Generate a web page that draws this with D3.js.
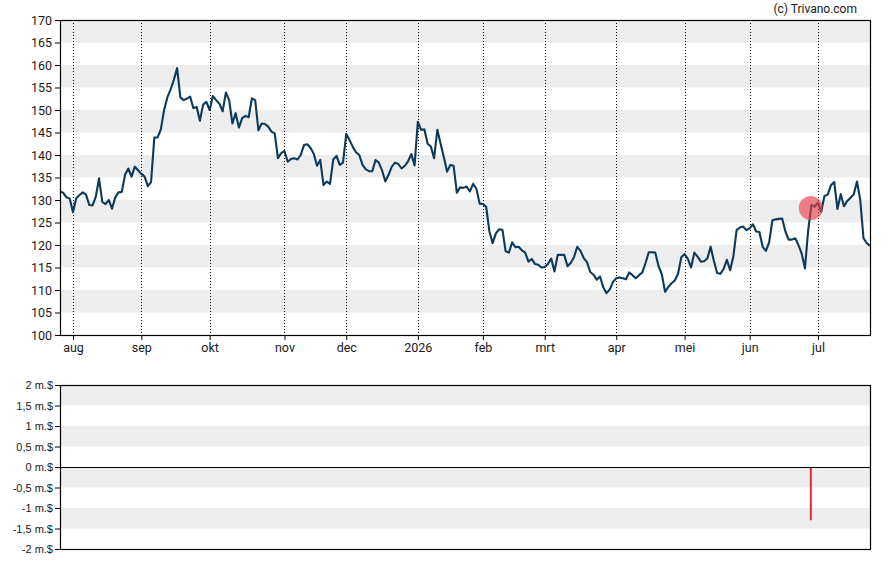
<!DOCTYPE html>
<html>
<head>
<meta charset="utf-8">
<script src="https://cdn.jsdelivr.net/npm/d3@7"></script>
<style>
  html, body { margin: 0; padding: 0; background: #fff; }
  svg { display: block; }
  text { font-family: Roboto, "Noto Sans", sans-serif; fill: #1a1a1a; }
</style>
</head>
<body>
<svg id="chart" width="888" height="565"></svg>
<script>
// ---- Data ----
const prices = [
  131.9,131.6,130.6,130.3,127.3,130.4,131.1,131.7,131.2,128.9,
  128.8,130.7,134.8,129.6,129.1,130.0,128.1,130.6,131.7,131.8,
  135.6,137.0,135.2,137.4,136.6,135.8,135.2,133.1,134.0,143.9,
  143.9,145.7,150.0,152.8,154.6,156.7,159.3,152.8,152.2,152.5,
  153.0,150.4,150.7,147.6,151.2,151.8,150.0,153.1,152.2,151.4,
  149.7,153.9,152.2,147.0,149.3,146.1,148.2,148.7,148.4,152.6,
  152.2,145.5,147.0,146.9,146.3,145.2,144.8,139.3,140.4,140.9,
  138.5,139.1,139.3,139.0,140.0,142.2,142.4,141.6,140.3,137.6,
  138.9,133.3,134.1,133.6,139.0,139.8,137.8,138.3,144.7,143.3,
  141.8,140.6,140.0,137.8,136.8,136.4,136.4,138.9,138.3,136.6,
  134.1,135.6,137.4,138.3,138.0,137.0,137.6,138.6,140.2,137.7,
  147.4,145.6,145.7,142.5,141.9,139.3,145.6,142.5,139.5,136.3,
  137.8,137.6,131.6,132.8,132.7,133.0,131.9,133.6,132.5,129.2,
  129.1,128.5,123.0,120.4,122.6,123.5,123.4,118.6,118.3,120.6,
  119.5,119.6,118.8,118.3,116.3,116.9,115.8,115.6,115.0,115.1,
  115.8,117.0,114.1,117.8,117.8,117.8,115.3,116.0,117.3,119.6,
  118.7,117.1,116.2,114.0,113.4,112.3,113.0,110.6,109.3,110.1,
  111.8,112.6,112.8,112.6,112.4,113.9,113.3,112.6,113.3,113.9,
  116.0,118.4,118.4,118.3,115.3,113.5,109.6,110.7,111.5,112.1,
  113.6,117.3,118.0,116.9,115.0,118.3,117.4,116.3,116.4,117.0,
  119.6,116.5,113.8,113.6,114.7,116.7,114.4,117.5,123.3,123.9,
  124.1,123.3,123.7,124.6,123.0,122.9,119.6,118.7,120.6,125.5,
  125.7,125.8,125.9,123.0,121.2,121.2,121.5,120.0,118.1,114.8,
  123.3,128.9,128.5,129.4,127.4,130.9,131.2,133.3,134.0,128.0,
  131.3,128.6,129.8,130.5,131.2,134.1,130.0,121.5,120.4,119.8
];
const monthLabels = ["aug","sep","okt","nov","dec","2026","feb","mrt","apr","mei","jun","jul"];
const monthIndex  = [4, 25, 46, 69, 88, 110, 130, 149, 171, 192, 212, 233];
const priceTicks  = [100,105,110,115,120,125,130,135,140,145,150,155,160,165,170];
const priceBands  = [[105,110],[115,120],[125,130],[135,140],[145,150],[155,160],[165,170]];
const flowTicks   = [2,1.5,1,0.5,0,-0.5,-1,-1.5,-2];
const flowLabels  = ["2 m.$","1,5 m.$","1 m.$","0,5 m.$","0 m.$","-0,5 m.$","-1 m.$","-1,5 m.$","-2 m.$"];
const flowBands   = [[1.5,2],[0.5,1],[-0.5,0],[-1.5,-1]];
const eventIndex  = [230.8];
const eventPrice  = [128.2];
const eventFlow   = [-1.3];

// ---- Layout ----
const L = 60, R = 870;
const T1 = 20, B1 = 335;
const T2 = 385, B2 = 549;

const svg = d3.select("#chart");

const x = d3.scaleLinear().domain([0, prices.length - 1]).range([L, R]);
const y = d3.scaleLinear().domain([100, 170]).range([B1, T1]);
const y2 = d3.scaleLinear().domain([-2, 2]).range([B2, T2]);

// ---- Top panel ----
const gTop = svg.append("g");
gTop.selectAll("rect.band").data(priceBands).enter().append("rect")
  .attr("x", L).attr("width", R - L)
  .attr("y", d => y(d[1])).attr("height", d => y(d[0]) - y(d[1]))
  .attr("fill", "#ededed");

gTop.selectAll("line.vgrid").data(monthIndex).enter().append("line")
  .attr("x1", d => Math.round(x(d)) + 0.5).attr("x2", d => Math.round(x(d)) + 0.5)
  .attr("y1", T1).attr("y2", B1)
  .attr("stroke", "#000").attr("stroke-width", 1).attr("stroke-dasharray", "1,2");

const line = d3.line().x((d, i) => x(i)).y(d => y(d));
gTop.append("path").datum(prices)
  .attr("d", line).attr("fill", "none")
  .attr("stroke", "#0d3a5a").attr("stroke-width", 2.1).attr("stroke-linejoin", "round");

gTop.selectAll("circle.ev").data(eventIndex).enter().append("circle")
  .attr("cx", d => x(d)).attr("cy", (d, i) => y(eventPrice[i])).attr("r", 12)
  .attr("fill", "#e8404f").attr("fill-opacity", 0.65);

// frame
gTop.append("rect").attr("x", L + 0.5).attr("y", T1 + 0.5)
  .attr("width", R - L).attr("height", B1 - T1)
  .attr("fill", "none").attr("stroke", "#000").attr("stroke-width", 1.2);

// y axis
const yAxis = d3.axisLeft(y).tickValues(priceTicks).tickSize(5).tickPadding(3).tickFormat(d3.format("d"));
const gy = svg.append("g").attr("transform", `translate(${L},0)`).call(yAxis);
gy.select(".domain").remove();
gy.selectAll("text").style("font-size", "12.5px").style("font-family", "Roboto, sans-serif").attr("fill", "#1a1a1a");
gy.selectAll("line").attr("stroke", "#000");

// x axis
const xAxis = d3.axisBottom(x).tickValues(monthIndex).tickSize(5).tickPadding(3)
  .tickFormat((d, i) => monthLabels[i]);
const gx = svg.append("g").attr("transform", `translate(0,${B1})`).call(xAxis);
gx.select(".domain").remove();
gx.selectAll("text").style("font-size", "12.5px").style("font-family", "Roboto, sans-serif").attr("fill", "#1a1a1a");
gx.selectAll("line").attr("stroke", "#000");

// copyright
svg.append("text").attr("x", 857).attr("y", 13).attr("text-anchor", "end")
  .style("font-size", "12px").text("(c) Trivano.com");

// ---- Bottom panel ----
const gBot = svg.append("g");
gBot.selectAll("rect.band").data(flowBands).enter().append("rect")
  .attr("x", L).attr("width", R - L)
  .attr("y", d => y2(d[1])).attr("height", d => y2(d[0]) - y2(d[1]))
  .attr("fill", "#ededed");

gBot.selectAll("line.bar").data(eventIndex).enter().append("line")
  .attr("x1", d => x(d)).attr("x2", d => x(d))
  .attr("y1", y2(0)).attr("y2", (d, i) => y2(eventFlow[i]))
  .attr("stroke", "#e8273c").attr("stroke-width", 2);

gBot.append("line").attr("x1", L).attr("x2", R).attr("y1", y2(0) + 0.5).attr("y2", y2(0) + 0.5)
  .attr("stroke", "#000").attr("stroke-width", 1.2);

gBot.append("rect").attr("x", L + 0.5).attr("y", T2 + 0.5)
  .attr("width", R - L).attr("height", B2 - T2)
  .attr("fill", "none").attr("stroke", "#000").attr("stroke-width", 1.2);

const y2Axis = d3.axisLeft(y2).tickValues(flowTicks).tickSize(5).tickPadding(2)
  .tickFormat((d, i) => flowLabels[i]);
const gy2 = svg.append("g").attr("transform", `translate(${L},0)`).call(y2Axis);
gy2.select(".domain").remove();
gy2.selectAll("text").style("font-size", "11px").style("font-family", "\"Liberation Sans\", Arial, sans-serif").attr("fill", "#1a1a1a");
gy2.selectAll("line").attr("stroke", "#000");
</script>
</body>
</html>
